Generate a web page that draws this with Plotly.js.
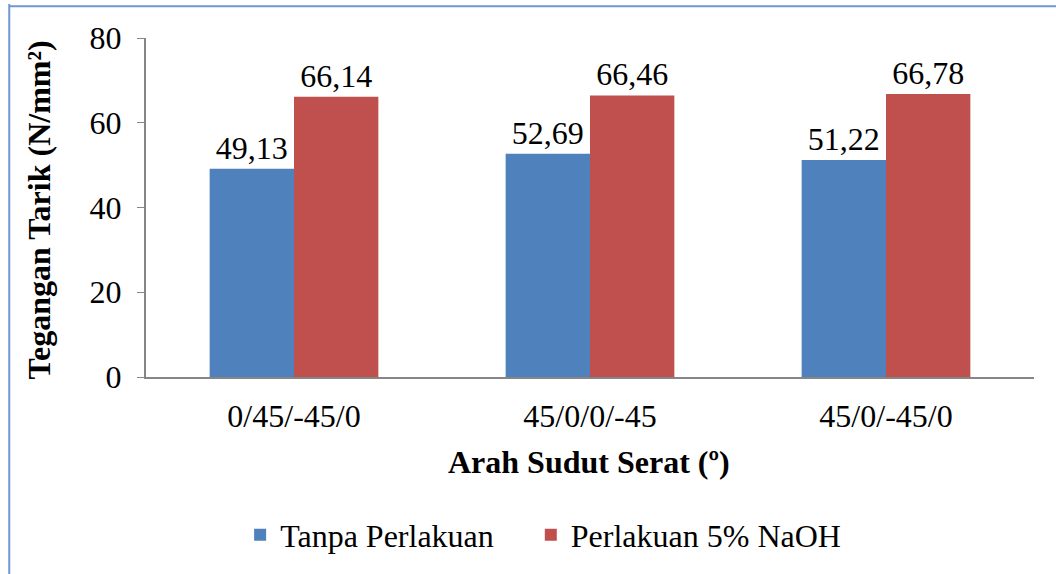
<!DOCTYPE html>
<html>
<head>
<meta charset="utf-8">
<script src="https://cdn.plot.ly/plotly-3.0.1.min.js"></script>
<style>body{margin:0;background:#fff}#chart{width:1056px;height:574px}</style>
</head>
<body>
<div id="chart"></div>
<script>
const arah=['0/45/-45/0','45/0/0/-45','45/0/-45/0'];
const tanpa=[49.13, 52.69, 51.22];
const naoh=[66.14, 66.46, 66.78];

const serif='Liberation Serif';

const data=[{
    x:arah,
    y:tanpa,
    type:'bar',
    name:'Tanpa Perlakuan\u00a0\u00a0\u00a0\u00a0',
    marker:{color:'#4F81BD'},
    texttemplate:'%{y:.2f}',
    textposition:'outside',
    cliponaxis:false,
    textfont:{family:serif,size:32,color:'#000'}
},
{
    x:arah,
    y:naoh,
    type:'bar',
    name:'Perlakuan 5% NaOH',
    marker:{color:'#C0504D'},
    texttemplate:'%{y:.2f}',
    textposition:'outside',
    cliponaxis:false,
    textfont:{family:serif,size:32,color:'#000'}
}];

const layout={
    width:1056,
    height:574,
    separators:',.',
    font:{family:serif,size:32,color:'#000'},
    paper_bgcolor:'#fff',
    plot_bgcolor:'#fff',
    margin:{l:146,r:22,t:38,b:195},
    barmode:'group',
    bargap:0.43,
    bargroupgap:0,
    showlegend:true,
    legend:{orientation:'h',x:0.106,xanchor:'left',y:-0.466,yanchor:'middle',
        font:{family:serif,size:32},itemwidth:30},
    xaxis:{
        automargin:false,
        showline:true,linecolor:'#868686',linewidth:2,
        ticks:'',ticklabelstandoff:10,tickfont:{family:serif,size:32}
    },
    yaxis:{
        automargin:false,
        range:[0,80],dtick:20,
        showline:true,linecolor:'#868686',linewidth:2,
        ticks:'outside',ticklen:7,tickcolor:'#868686',
        showgrid:false,zeroline:false,ticklabelstandoff:9,
        tickfont:{family:serif,size:32}
    },
    annotations:[
        {text:'<b>Arah Sudut Serat (º)</b>',xref:'paper',yref:'paper',x:0.4994,y:-0.252,
            xanchor:'center',yanchor:'middle',showarrow:false,font:{family:serif,size:32}},
        {text:'<b>Tegangan Tarik (N/mm²)</b>',xref:'paper',yref:'paper',x:-0.1206,y:0.494,
            xanchor:'center',yanchor:'middle',textangle:-90,showarrow:false,font:{family:serif,size:32}}
    ],
    shapes:[
        {type:'line',xref:'paper',yref:'paper',x0:-0.154,x1:-0.154,y0:1.1,y1:-0.6,line:{color:'#6F97CF',width:2}},
        {type:'line',xref:'paper',yref:'paper',x0:-0.154,x1:1.05,y0:1.094,y1:1.094,line:{color:'#6F97CF',width:2}}
    ]
};

Plotly.newPlot('chart',data,layout,{displayModeBar:false});
</script>
</body>
</html>
